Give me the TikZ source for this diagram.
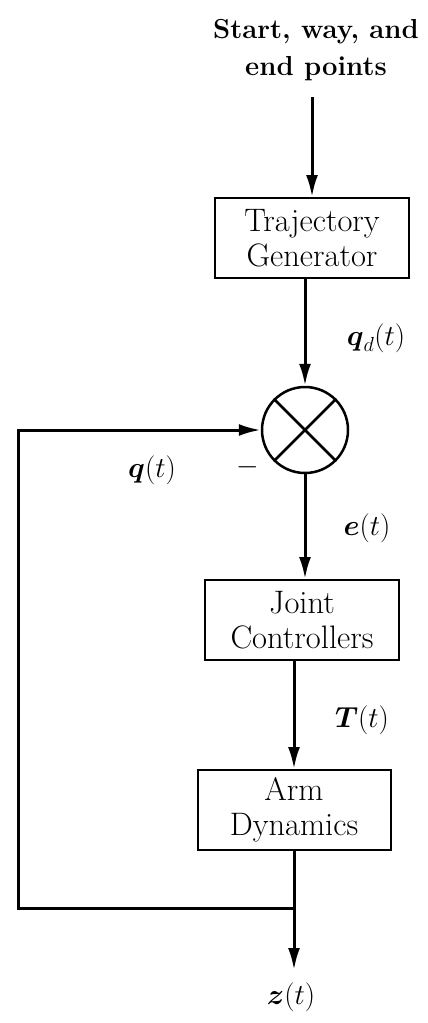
\RequirePackage{fix-cm}
\documentclass[tikz,border=0pt]{standalone}
\usepackage{amsmath,amssymb}
\usepackage{tikz}
\usetikzlibrary{calc,arrows.meta}

\begin{document}
\begin{tikzpicture}[x=1pt, y=-1pt, >={Latex[length=22pt,width=12pt]},
    block/.style={draw, line width=2pt, minimum width=194pt, minimum height=80pt,
      align=center, inner sep=0pt, font=\fontsize{32.5}{35}\selectfont},
    sig/.style={font=\fontsize{29}{34}\selectfont},
    wire/.style={line width=3pt}]
  \useasboundingbox (0,0) rectangle (428,1023);

  % Input text and blocks
  \node[align=center, font=\fontsize{27.5}{37}\selectfont\bfseries] (input) at (316,50) {Start, way, and\\end points};
  \coordinate (in) at (312,97);
  \node[block] (traj) at (312,238) {Trajectory\\Generator};
  \node[draw, circle, line width=2.5pt, minimum size=86pt, inner sep=0pt] (sum) at (305,430) {};
  \draw[line width=2.5pt] (sum.north west) -- (sum.south east);
  \draw[line width=2.5pt] (sum.north east) -- (sum.south west);
  \node[block] (joint) at (302,620) {Joint\\Controllers};
  \node[block, minimum width=193pt] (arm) at (294,810) {Arm\\Dynamics};

  % Forward path
  \draw[wire, ->] (in) -- (traj);
  \draw[wire, ->] (traj.south -| sum) -- (sum);
  \draw[wire, ->] (sum) -- (sum |- joint.north);
  \draw[wire, ->] (joint.south -| arm) -- (arm);
  \coordinate (j) at (294,908);
  \coordinate (out) at (294,970);
  \draw[wire, ->] (arm) -- (out);

  % Feedback loop
  \coordinate (fb1) at (18,908);
  \draw[wire, ->] (j) -- (fb1) |- (sum);

  % Signal labels
  \node[sig] (qd) at (376,338) {$\boldsymbol{q}_{d}(t)$};
  \node[sig] (q) at (152,470) {$\boldsymbol{q}(t)$};
  \node[sig] (minus) at (248,467) {$-$};
  \node[sig] (e) at (367,528) {$\boldsymbol{e}(t)$};
  \node[sig] (T) at (362,720) {$\boldsymbol{T}(t)$};
  \node[sig] (z) at (291,997) {$\boldsymbol{z}(t)$};
\end{tikzpicture}
\end{document}
